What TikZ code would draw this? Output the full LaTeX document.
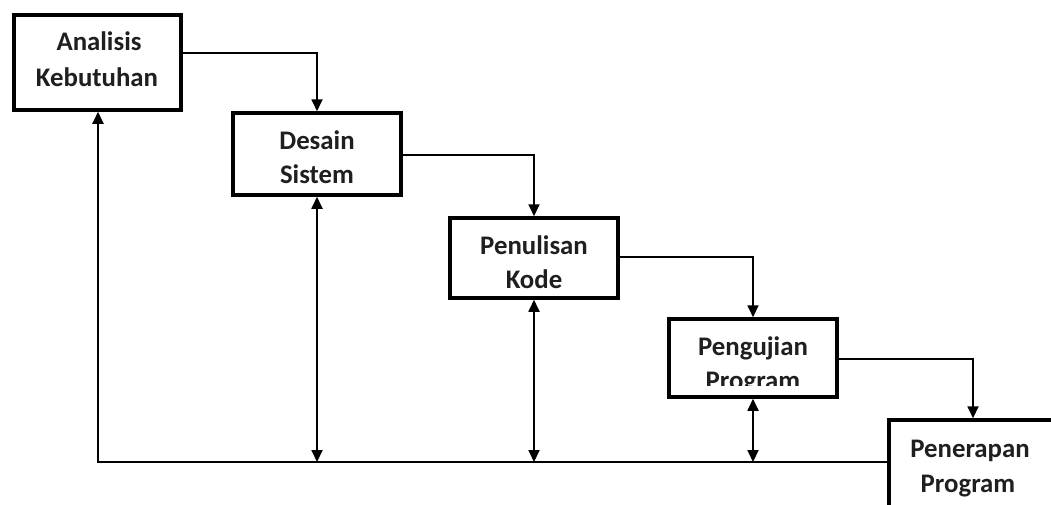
\documentclass[tikz,border=0pt]{standalone}
\usepackage{fontspec}
\setmainfont{Carlito}
\usetikzlibrary{arrows.meta}
\begin{document}
\begin{tikzpicture}[x=1pt,y=-1pt]
\tikzset{
 stage/.style={draw=black, line width=3.5pt, inner sep=0pt, fill=white},
 lbl/.style={anchor=base, inner sep=0pt, text=black!88, font=\fontsize{26.8}{34}\selectfont\bfseries},
 conn/.style={line width=1.8pt, -{Triangle[length=12pt,width=11pt]}},
 dconn/.style={line width=1.8pt, {Triangle[length=12pt,width=11pt]}-{Triangle[length=12pt,width=11pt]}},
}
\useasboundingbox (0,0) rectangle (1051,504);
\clip (0,0) rectangle (1051,504);
\fill[white] (0,0) rectangle (1051,504);

% boxes
\node[stage, minimum width=167pt, minimum height=95pt] (s1) at (97.5,62.5) {};
\node[stage, minimum width=168pt, minimum height=82pt] (s2) at (317,154) {};
\node[stage, minimum width=168pt, minimum height=80pt] (s3) at (534,258) {};
\node[stage, minimum width=168pt, minimum height=78pt] (s4) at (753,358) {};
\node[stage, minimum width=168pt, minimum height=100pt] (s5) at (973,470) {};

% labels
\node[lbl] (t1a) at (99,50) {Analisis};
\node[lbl] (t1b) at (97,86) {Kebutuhan};
\node[lbl] (t2a) at (317,149) {Desain};
\node[lbl] (t2b) at (317,183) {Sistem};
\node[lbl] (t3a) at (534,254) {Penulisan};
\node[lbl] (t3b) at (534,288) {Kode};
\node[lbl] (t4a) at (753,355) {Pengujian};
\begin{scope}
\clip (669,319) rectangle (837,385);
\node[lbl] (t4b) at (753,389) {Program};
\end{scope}
\node[lbl] (t5a) at (970,457) {Penerapan};
\node[lbl] (t5b) at (968,492) {Program};

% connectors
\coordinate (h1) at (0,53);
\coordinate (h2) at (0,155);
\coordinate (h3) at (0,257);
\coordinate (h4) at (0,359);
\coordinate (bl) at (98,462);
\draw[conn] (s1.east |- h1) -| (s2.north);
\draw[conn] (s2.east |- h2) -| (s3.north);
\draw[conn] (s3.east |- h3) -| (s4.north);
\draw[conn] (s4.east |- h4) -| (s5.north);
\draw[conn] (s5.west |- bl) -- (bl) -- (bl |- s1.south);
\draw[dconn] (s2.south) -- (s2.south |- bl);
\draw[dconn] (s3.south) -- (s3.south |- bl);
\draw[dconn] (s4.south) -- (s4.south |- bl);
\end{tikzpicture}
\end{document}
